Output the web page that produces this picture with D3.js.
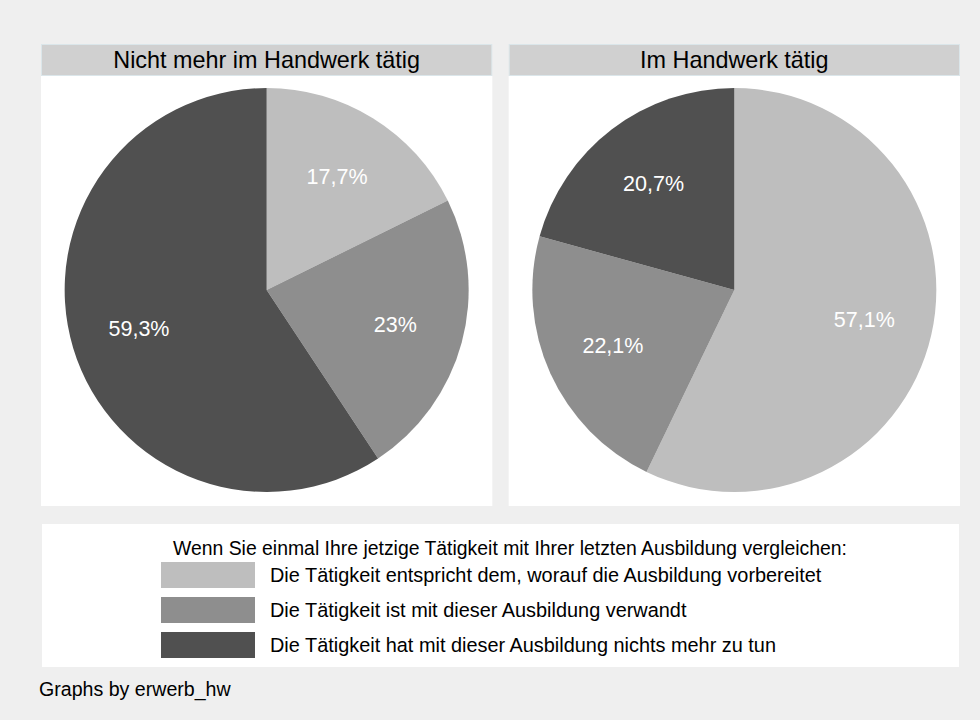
<!DOCTYPE html>
<html>
<head>
<meta charset="utf-8">
<script src="https://cdn.jsdelivr.net/npm/d3@7.9.0/dist/d3.min.js"></script>
<style>
  body { margin: 0; background: #efefef; }
  svg { display: block; font-family: "Liberation Sans", Arial, sans-serif; }
</style>
</head>
<body>
<svg width="980" height="720"></svg>
<script>
// data
const panels = ['Nicht mehr im Handwerk tätig', 'Im Handwerk tätig'];
const categories = [
    'Die Tätigkeit entspricht dem, worauf die Ausbildung vorbereitet',
    'Die Tätigkeit ist mit dieser Ausbildung verwandt',
    'Die Tätigkeit hat mit dieser Ausbildung nichts mehr zu tun'
];
const notHandwerk = [17.7, 23, 59.3];
const inHandwerk = [57.1, 22.1, 20.7];
const legendTitle = 'Wenn Sie einmal Ihre jetzige Tätigkeit mit Ihrer letzten Ausbildung vergleichen:';
const note = 'Graphs by erwerb_hw';

const seriesByPanel = [notHandwerk, inHandwerk];
const colors = d3.scaleOrdinal().domain(categories).range(['#bebebe', '#8e8e8e', '#505050']);
const de = d3.formatLocale({ decimal: ',', thousands: '.', grouping: [3], currency: ['', ' €'] });
const fmt = de.format('.1~f');

const svg = d3.select('svg');
svg.append('rect').attr('width', 980).attr('height', 720).attr('fill', '#efefef');

const panelX = d3.scaleBand().domain(panels).range([41, 960]).paddingInner(0.035);
const headerTop = 44, headerH = 32, panelBottom = 506;
const radius = 202;
const pie = d3.pie().sort(null).value(d => d);
const arc = d3.arc().innerRadius(0).outerRadius(radius);
const labelArc = d3.arc().innerRadius(radius * 0.66).outerRadius(radius * 0.66);

panels.forEach((name, i) => {
    const x0 = panelX(name);
    const w = panelX.bandwidth();
    const g = svg.append('g');

    g.append('rect')
        .attr('x', x0).attr('y', headerTop + headerH)
        .attr('width', w).attr('height', panelBottom - headerTop - headerH)
        .attr('fill', '#fff');

    g.append('rect')
        .attr('x', x0 + 0.5).attr('y', headerTop + 0.5)
        .attr('width', w - 1).attr('height', headerH - 1)
        .attr('fill', '#d0d0d0')
        .attr('stroke', '#dbe6ea');

    g.append('text')
        .attr('x', x0 + w / 2).attr('y', headerTop + headerH / 2 + 8)
        .attr('text-anchor', 'middle')
        .attr('font-size', 23.4)
        .attr('fill', '#000')
        .text(name);

    const cx = x0 + w / 2;
    const cy = 290;
    const pieG = g.append('g').attr('transform', `translate(${cx},${cy})`);
    const arcs = pie(seriesByPanel[i]);

    pieG.selectAll('path')
        .data(arcs)
        .join('path')
        .attr('d', arc)
        .attr('fill', (d, j) => colors(categories[j]));

    pieG.selectAll('text')
        .data(arcs)
        .join('text')
        .attr('transform', d => `translate(${labelArc.centroid(d)})`)
        .attr('text-anchor', 'middle')
        .attr('dy', '0.35em')
        .attr('font-size', 21.5)
        .attr('fill', '#fff')
        .text(d => fmt(d.data) + '%');
});

// legend
const legend = svg.append('g');
legend.append('rect')
    .attr('x', 42).attr('y', 524)
    .attr('width', 917).attr('height', 143)
    .attr('fill', '#fff');

legend.append('text')
    .attr('x', 510).attr('y', 555)
    .attr('text-anchor', 'middle')
    .attr('font-size', 19.4)
    .text(legendTitle);

const rowY = d3.scalePoint().domain(categories).range([562, 632]);
categories.forEach(c => {
    legend.append('rect')
        .attr('x', 161).attr('y', rowY(c))
        .attr('width', 94).attr('height', 26)
        .attr('fill', colors(c));
    legend.append('text')
        .attr('x', 270).attr('y', rowY(c) + 13)
        .attr('dy', '0.35em')
        .attr('font-size', 19.9)
        .text(c);
});

svg.append('text')
    .attr('x', 39).attr('y', 696)
    .attr('font-size', 19.6)
    .text(note);
</script>
</body>
</html>
